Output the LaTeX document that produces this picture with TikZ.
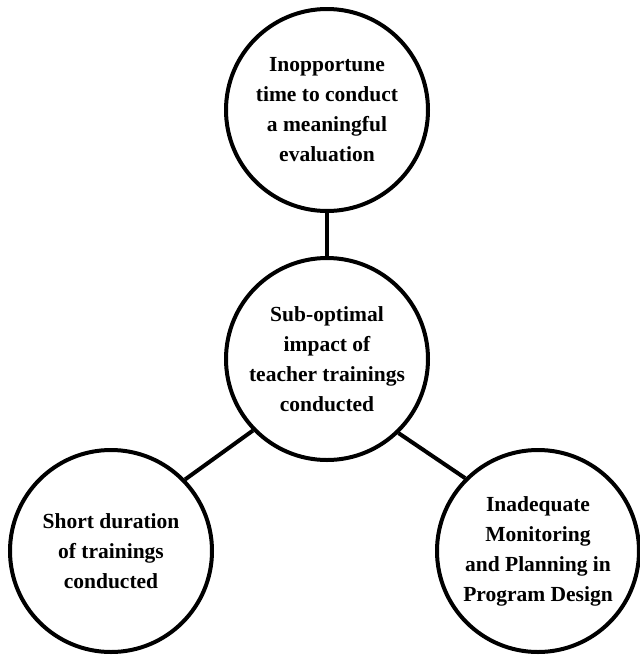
\documentclass[tikz,border=0pt]{standalone}
\usepackage{fontspec}
\setmainfont{Liberation Serif}
\usepackage{tikz}

\tikzset{
    causebox/.style={circle, draw, line width=4pt, minimum size=202pt, inner sep=0pt,
        align=center, font=\bfseries\fontsize{21.5}{30}\selectfont},
    link/.style={line width=4pt}
}

\begin{document}
\begin{tikzpicture}[x=1pt, y=-1pt]
        \useasboundingbox (0, 0) rectangle (640, 657);

        \node[causebox] (inopp) at (327, 110) {Inopportune\\time to conduct\\a meaningful\\evaluation};
        \node[causebox] (subopt) at (327, 359) {Sub-optimal\\impact of\\teacher trainings\\conducted};
        \node[causebox] (short) at (111, 551) {Short duration\\of trainings\\conducted};
        \node[causebox] (inadeq) at (538, 551) {Inadequate\\Monitoring\\and Planning in\\Program Design};

        \draw[link] (inopp.south) -- (subopt.north);
        \draw[link] (subopt.224) -- (short.44);
        \draw[link] (subopt.314) -- (inadeq.135);
    \end{tikzpicture}
\end{document}
